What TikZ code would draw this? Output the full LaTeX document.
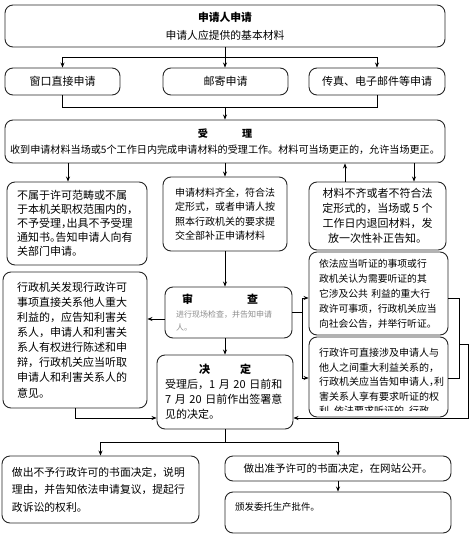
\documentclass[tikz,border=0pt]{standalone}
\usepackage{fontspec}
\setmainfont{Noto Sans CJK SC}
\newfontfamily\hf{Noto Sans CJK SC}[RawFeature=+halt]
\usetikzlibrary{arrows.meta}
\begin{document}
\begin{tikzpicture}[x=1pt,y=-1pt,
  box/.style={draw=black!85, line width=0.9pt, rounded corners=8pt, inner sep=0pt},
  arr/.style={-{Stealth[length=5pt,width=4pt]}},
  ln/.style={line width=0.7pt, black},
  fs/.style 2 args={font=\fontsize{#1}{#2}\selectfont}
]
\useasboundingbox (0,0) rectangle (470,534);

% boxes
\node[box, minimum width=440pt, minimum height=42pt, align=center, fs={10.8}{18}] (top) at (225,26)
  {{\bfseries 申请人申请}\\申请人应提供的基本材料};
\node[box, minimum width=115pt, minimum height=27pt, fs={11}{12}] (w1) at (62.5,81.5) {窗口直接申请};
\node[box, minimum width=125pt, minimum height=27pt, fs={11}{12}] (w2) at (225.5,81.5) {邮寄申请};
\node[box, minimum width=136pt, minimum height=27pt, fs={11}{12}] (w3) at (377,81.5) {传真、电子邮件等申请};

\node[box, minimum width=440pt, minimum height=43pt, align=center, fs={10.1}{16}] (acc) at (225,141.5)
  {{\bfseries 受\hspace{34pt}理}\\收到申请材料当场或5个工作日内完成申请材料的受理工作。材料可当场更正的，允许当场更正。};

\node[box, minimum width=140pt, minimum height=83pt, text width=120pt, align=left, font=\hf\fontsize{11}{14}\selectfont] (A) at (77,223.5)
  {不属于许可范畴或不属\\于本机关职权范围内的，\\不予受理，出具不予受理\\通知书。告知申请人向有\\关部门申请。};
\node[box, minimum width=124pt, minimum height=74pt, text width=100pt, align=left, fs={10}{14.5}] (B) at (225,214)
  {申请材料齐全，符合法\\定形式，或者申请人按\\照本行政机关的要求提\\交全部补正申请材料};
\node[box, minimum width=137pt, minimum height=68pt, align=center, fs={11}{15}] (C) at (377.5,216)
  {材料不齐或者不符合法\\定形式的，当场或 5 个\\工作日内退回材料，发\\放一次性补正告知。};

\node[box, minimum width=144pt, minimum height=136pt, text width=116pt, align=left, fs={11}{15.1}] (D) at (75,340)
  {行政机关发现行政许可\\事项直接关系他人重大\\利益的，应告知利害关\\系人，申请人和利害关\\系人有权进行陈述和申\\辩，行政机关应当听取\\申请人和利害关系人的\\意见。};

\node[box, minimum width=127pt, minimum height=51pt, text width=105pt, align=left, fs={8}{13}] (rev) at (228.5,312.5)
  {\hspace*{6pt}{\fontsize{11}{13}\selectfont\bfseries 审\hspace{54pt}查}\\[1pt]
   \textcolor{black!45}{进行现场检查，并告知申请}\\\textcolor{black!45}{人。}};

\node[box, minimum width=139pt, minimum height=83pt, text width=119pt, align=left, fs={9.8}{15}] (E) at (378.5,293.5)
  {依法应当听证的事项或行\\政机关认为需要听证的其\\它涉及公共 利益的重大行\\政许可事项，行政机关应当\\向社会公告，并举行听证。};

\node[box, minimum width=139pt, minimum height=80pt] (F) at (378.5,377) {};
\begin{scope}
  \clip (F.north west) rectangle ([yshift=7pt]F.south east);
  \node[anchor=north west, inner sep=0pt, align=left, font=\hf\fontsize{10}{14.5}\selectfont] (Ft) at (319,348)
    {行政许可直接涉及申请人与\\他人之间重大利益关系的，\\行政机关应当告知申请人，利\\害关系人享有要求听证的权\\利，依法要求听证的，行政};
\end{scope}

\node[box, minimum width=136pt, minimum height=74pt, text width=120pt, align=left, fs={11}{15}] (dec) at (225,392)
  {\hspace*{34pt}{\bfseries 决\hspace{30pt}定}\\受理后，1 月 20 日前和\\7 月 20 日前作出签署意\\见的决定。};

\node[box, minimum width=197pt, minimum height=67pt, text width=177pt, align=left, fs={10.8}{17.5}] (G) at (100.5,489.5)
  {做出不予行政许可的书面决定，说明\\理由，并告知依法申请复议，提起行\\政诉讼的权利。};
\node[box, minimum width=226pt, minimum height=25pt, fs={10.5}{12}] (H) at (338,468.5)
  {做出准予许可的书面决定，在网站公开。};
\node[box, minimum width=226pt, minimum height=41pt] (I) at (338,512.5) {};
\node[anchor=west, inner sep=0pt, fs={9.4}{12}] (It) at (235,507) {颁发委托生产批件。};

% connectors
\coordinate (j1) at (225,57);
\draw[ln] (top.south) -- (j1);
\draw[ln,arr] (j1) -| (w1.north);
\draw[ln,arr] (j1) -- (j1 |- w2.north);
\draw[ln,arr] (j1) -| (w3.north);

\coordinate (j2) at (225,107);
\draw[ln] (w1.south) |- (j2);
\draw[ln] (w3.south) |- (j2);
\draw[ln,arr] (j2) -- (j2 |- acc.north);

\coordinate (xa) at (68,0);
\draw[ln,arr] (acc.south -| xa) -- (A.north -| xa);
\draw[ln,arr] (acc.south -| B.north) -- (B.north);
\coordinate (xc1) at (345,0);
\draw[ln,arr] (C.north -| xc1) -- (acc.south -| xc1);
\coordinate (xc2) at (414,0);
\draw[ln,arr] (acc.south -| xc2) -- (C.north -| xc2);

\coordinate (xm) at (225,0);
\draw[ln,arr] (B.south) -- (B.south |- rev.north);
\draw[ln,arr] (rev.south -| xm) -- (dec.north -| xm);

\coordinate (ry) at (0,319);
\draw[ln,arr] (rev.west |- ry) -- (D.east |- ry);

\coordinate (sp) at (302,312.5);
\coordinate (ey) at (0,298);
\coordinate (fy) at (0,378);
\draw[ln] (rev.east) -- (sp);
\draw[ln,arr] (sp) |- (E.west |- ey);
\draw[ln,arr] (sp) |- (F.west |- fy);

\coordinate (bx) at (459,0);
\draw[ln] (E.east |- ey) -| (bx |- fy) -- (F.east |- fy);
\coordinate (by) at (459,344);
\coordinate (rx) at (468.5,0);
\coordinate (dy) at (0,418);
\draw[ln,arr] (by) -| (rx |- dy) -- (dec.east |- dy);
\draw[ln,arr] (D.south) |- (dec.west |- dy);

\coordinate (j3) at (225,442);
\draw[ln] (dec.south -| xm) -- (j3);
\draw[ln,arr] (j3) -| (G.north);
\draw[ln,arr] (j3) -| (H.north);
\draw[ln,arr] (H.south) -- (I.north);
\end{tikzpicture}
\end{document}
